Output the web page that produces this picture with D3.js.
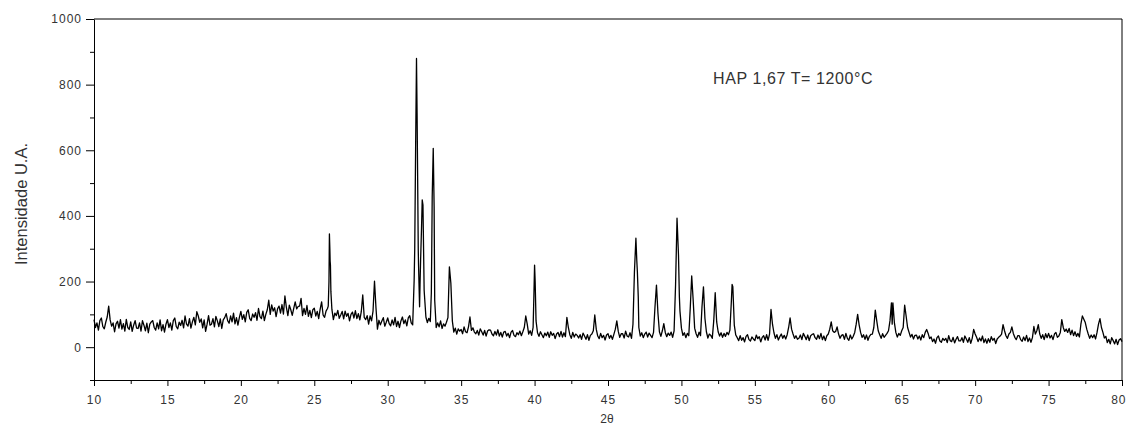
<!DOCTYPE html>
<html>
<head>
<meta charset="utf-8">
<script src="https://cdn.jsdelivr.net/npm/d3@7"></script>
<style>
  body { margin: 0; background: #fff; }
  svg { display: block; }
  .tick text { font-family: "Liberation Sans", Arial, sans-serif; font-size: 12px; fill: #333; letter-spacing: 1px; }
  .label { font-family: "Liberation Sans", Arial, sans-serif; fill: #333; }
</style>
</head>
<body>
<div id="chart"></div>
<script>
'use strict';

// scan: one value every 0.1 deg from 10 to 80
var scanStart = 10;
var scanStep = 0.1;
var counts = [
  84, 60, 74, 52, 81, 89, 63, 56, 76, 92,
  125, 83, 64, 74, 47, 71, 79, 58, 84, 55,
  72, 49, 85, 60, 54, 77, 48, 67, 81, 58,
  57, 74, 49, 81, 67, 50, 73, 44, 70, 77,
  81, 60, 52, 74, 56, 83, 50, 69, 46, 70,
  84, 60, 74, 52, 81, 89, 63, 56, 76, 66,
  82, 59, 95, 70, 64, 87, 58, 77, 91, 68,
  108, 95, 76, 86, 59, 83, 48, 70, 96, 67,
  70, 87, 62, 94, 80, 63, 86, 57, 83, 90,
  102, 81, 73, 95, 77, 104, 71, 90, 67, 91,
  109, 85, 99, 77, 106, 114, 88, 81, 101, 91,
  105, 82, 118, 93, 87, 110, 81, 100, 114, 143,
  100, 129, 110, 120, 93, 117, 125, 104, 130, 101,
  156, 121, 96, 128, 114, 97, 118, 138, 117, 124,
  125, 149, 96, 118, 100, 127, 94, 112, 90, 114,
  119, 95, 109, 87, 116, 138, 98, 91, 110, 118,
  200, 250, 115, 84, 104, 96, 112, 88, 98, 109,
  86, 110, 94, 103, 80, 100, 107, 89, 111, 87,
  102, 83, 108, 159, 91, 84, 96, 70, 95, 80,
  110, 201, 120, 55, 82, 68, 80, 90, 64, 76,
  89, 72, 65, 83, 68, 91, 63, 79, 60, 80,
  92, 72, 83, 65, 89, 96, 74, 68, 204, 606,
  713, 250, 190, 360, 433, 160, 92, 75, 88, 78,
  300, 606, 143, 60, 74, 62, 80, 57, 71, 64,
  76, 90, 245, 195, 80, 46, 58, 40, 56, 49,
  54, 41, 62, 47, 44, 62, 92, 51, 59, 46,
  41, 51, 37, 56, 47, 37, 51, 34, 49, 53,
  52, 40, 35, 48, 37, 53, 34, 45, 31, 46,
  48, 34, 42, 29, 46, 51, 36, 32, 44, 38,
  49, 35, 47, 60, 95, 70, 40, 50, 36, 60,
  250, 80, 44, 33, 47, 38, 29, 43, 35, 46,
  30, 47, 36, 42, 26, 40, 45, 32, 48, 31,
  44, 32, 91, 60, 38, 27, 45, 31, 40, 36,
  28, 38, 24, 43, 34, 24, 38, 21, 36, 40,
  50, 98, 55, 34, 26, 42, 29, 36, 22, 37,
  41, 27, 36, 24, 39, 55, 80, 48, 30, 41,
  41, 28, 49, 34, 31, 44, 27, 70, 230, 332,
  230, 60, 34, 44, 29, 40, 46, 31, 43, 36,
  29, 45, 123, 189, 104, 47, 33, 50, 72, 45,
  32, 43, 36, 46, 30, 50, 189, 393, 281, 110,
  58, 36, 44, 29, 42, 35, 119, 217, 143, 58,
  41, 30, 46, 35, 123, 184, 88, 47, 28, 40,
  36, 27, 80, 166, 77, 47, 34, 44, 30, 42,
  33, 45, 38, 52, 140, 184, 67, 37, 29, 20,
  35, 21, 29, 16, 33, 38, 23, 19, 31, 25,
  20, 37, 26, 32, 16, 30, 35, 22, 38, 21,
  40, 115, 70, 44, 27, 38, 22, 32, 40, 27,
  36, 25, 38, 60, 89, 55, 40, 27, 35, 24,
  27, 37, 23, 42, 33, 23, 37, 20, 35, 39,
  41, 29, 24, 37, 26, 42, 23, 34, 20, 35,
  40, 55, 77, 50, 45, 48, 62, 40, 27, 36,
  38, 24, 42, 27, 21, 37, 25, 33, 45, 70,
  100, 68, 45, 30, 38, 24, 37, 21, 33, 39,
  40, 60, 113, 80, 50, 38, 27, 41, 30, 36,
  42, 50, 80, 135, 135, 75, 45, 31, 42, 36,
  50, 60, 128, 95, 60, 45, 31, 39, 25, 36,
  37, 25, 34, 22, 38, 29, 45, 54, 42, 26,
  31, 17, 25, 12, 29, 34, 19, 15, 27, 21,
  27, 14, 35, 20, 17, 30, 13, 24, 32, 19,
  19, 29, 15, 34, 25, 15, 29, 12, 27, 54,
  40, 30, 17, 28, 19, 34, 14, 25, 12, 26,
  15, 32, 21, 27, 11, 25, 30, 34, 40, 69,
  50, 35, 27, 40, 45, 62, 42, 30, 23, 35,
  35, 23, 18, 31, 20, 36, 17, 28, 15, 29,
  63, 40, 50, 69, 40, 27, 38, 23, 41, 29,
  42, 28, 36, 23, 40, 45, 30, 34, 45, 84,
  60, 48, 55, 45, 57, 38, 52, 35, 47, 33,
  42, 31, 70, 95, 85, 75, 55, 40, 27, 37,
  29, 38, 25, 45, 70, 87, 60, 45, 28, 33,
  14, 24, 10, 29, 20, 10, 24, 8, 22, 26,
  17
];

// extra points inside the narrow reflections
var peakAngles = [25.95, 26.03, 26.06, 26.08, 26.13, 31.84, 31.96, 32.08, 32.17, 32.24, 32.35, 32.48,
                  32.97, 33.03, 33.16, 39.95, 40.04, 46.96, 47.06, 49.86, 53.45, 64.35];
var peakCounts = [125, 345, 300, 262, 170, 300, 880, 296, 123, 265, 449, 174,
                  165, 459, 428, 150, 200, 265, 154, 154, 191, 70];

var xTicks = [10, 15, 20, 25, 30, 35, 40, 45, 50, 55, 60, 65, 70, 75, 80];
var yTicks = [0, 200, 400, 600, 800, 1000];
var xTitle = '2θ';
var yTitle = 'Intensidade U.A.';
var note = 'HAP 1,67 T= 1200°C';

var width = 1126, height = 432;
var margin = { top: 19, right: 4, bottom: 52, left: 94 };

var data = counts.map(function (v, i) {
    return { x: (scanStart * 10 + i) * scanStep, y: v };
}).concat(peakAngles.map(function (a, i) {
    return { x: a, y: peakCounts[i] };
})).sort(function (a, b) { return a.x - b.x; });

var svg = d3.select('#chart').append('svg')
    .attr('width', width)
    .attr('height', height);

var x = d3.scaleLinear().domain([10, 80]).range([margin.left, width - margin.right]);
var y = d3.scaleLinear().domain([-100, 1000]).range([height - margin.bottom, margin.top]);

// frame (top and right)
svg.append('path')
    .attr('d', 'M' + x(10) + ',' + y(1000) + 'H' + x(80) + 'V' + y(-100))
    .attr('fill', 'none')
    .attr('stroke', '#000')
    .attr('stroke-width', 1);

// minor ticks
svg.append('g')
    .attr('transform', 'translate(0,' + y(-100) + ')')
    .call(d3.axisBottom(x).tickValues(d3.range(12.5, 80, 5)).tickSize(4).tickFormat(''))
    .call(function (g) { g.select('.domain').remove(); });
svg.append('g')
    .attr('transform', 'translate(' + x(10) + ',0)')
    .call(d3.axisLeft(y).tickValues(d3.range(-100, 1000, 200)).tickSize(4).tickFormat(''))
    .call(function (g) { g.select('.domain').remove(); });

// main axes
var xAxis = svg.append('g')
    .attr('transform', 'translate(0,' + y(-100) + ')')
    .call(d3.axisBottom(x).tickValues(xTicks).tickSize(6).tickPadding(9).tickSizeOuter(0).tickFormat(d3.format('d')));
svg.append('g')
    .attr('transform', 'translate(' + x(10) + ',0)')
    .call(d3.axisLeft(y).tickValues(yTicks).tickSize(8).tickPadding(4).tickSizeOuter(0).tickFormat(d3.format('d')));

// last x label sits at the right edge; keep it inside the picture
xAxis.selectAll('.tick text').filter(function (d) { return d === 80; })
    .attr('text-anchor', 'end')
    .attr('dx', 4);

svg.selectAll('.domain').attr('stroke', '#000');
svg.selectAll('.tick line').attr('stroke', '#000');

// pattern
var line = d3.line()
    .x(function (d) { return x(d.x); })
    .y(function (d) { return y(d.y); });

svg.append('path')
    .datum(data)
    .attr('d', line)
    .attr('fill', 'none')
    .attr('stroke', '#000')
    .attr('stroke-width', 1.3)
    .attr('stroke-linejoin', 'round');

// labels
svg.append('text')
    .attr('class', 'label')
    .attr('x', 607)
    .attr('y', 423)
    .attr('text-anchor', 'middle')
    .style('font-size', '12px')
    .text(xTitle);

svg.append('text')
    .attr('class', 'label')
    .attr('transform', 'translate(27,204) rotate(-90)')
    .attr('text-anchor', 'middle')
    .style('font-size', '16.5px')
    .text(yTitle);

svg.append('text')
    .attr('class', 'label')
    .attr('x', 713)
    .attr('y', 84)
    .style('font-size', '16px')
    .style('letter-spacing', '0.6px')
    .text(note);
</script>
</body>
</html>
